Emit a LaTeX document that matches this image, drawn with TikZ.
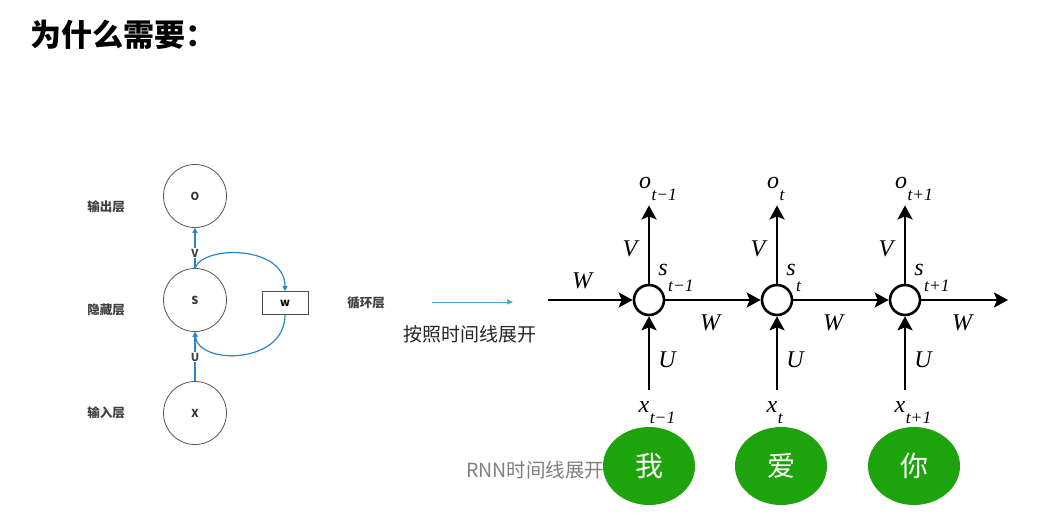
\documentclass[tikz,border=0pt]{standalone}
\usepackage{fontspec}
\setmainfont{Liberation Serif}
\newfontfamily\cjk{Noto Sans CJK SC}
\usetikzlibrary{arrows.meta,shapes.geometric}
\definecolor{lblue}{HTML}{2A86C4}
\definecolor{rgreen}{HTML}{1DA30B}
\newcommand{\sbx}[2]{\rlap{\smash{\kern0.5pt\raisebox{-#1pt}{\fontsize{17.5}{17.5}\selectfont\itshape #2}}}}
\begin{document}
\begin{tikzpicture}[x=1pt,y=-1pt,
  lcirc/.style={circle,draw=black!65,line width=0.8pt,minimum size=63pt,inner sep=0pt,font=\cjk\bfseries\fontsize{11}{11}\selectfont,text=black!80},
  llab/.style={font=\cjk\bfseries\fontsize{12.5}{13}\selectfont,text=black!75},
  wlab/.style={font=\cjk\bfseries\fontsize{11}{11}\selectfont,text=black!75,fill=white,inner sep=1pt},
  barr/.style={draw=lblue,line width=1.2pt,-{Triangle[length=5pt,width=5pt]}},
  rcirc/.style={circle,draw=black,line width=2.6pt,minimum size=30pt,inner sep=0pt},
  rarr/.style={draw=black,line width=2.6pt,-{Stealth[length=14pt,width=15pt,inset=3pt]}},
  mlab/.style={font=\itshape\fontsize{24}{24}\selectfont,inner sep=0pt},
  gword/.style={ellipse,fill=rgreen,minimum width=92pt,minimum height=78pt,text=white,font=\cjk\fontsize{28}{28}\selectfont},
]
\useasboundingbox[fill=white] (0,0) rectangle (1038,532);

% title
\node[anchor=west,font=\cjk\bfseries\fontsize{31}{31}\selectfont,inner sep=0pt] (title) at (30,35) {为什么需要：};

% left diagram
\node[lcirc] (O) at (195,196) {O};
\node[lcirc] (S) at (195,300) {S};
\node[lcirc] (X) at (195,413) {X};
\node[llab] (lo) at (106,207) {输出层};
\node[llab] (ls) at (106,310) {隐藏层};
\node[llab] (lx) at (106,413) {输入层};
\node[draw=black!70,line width=0.8pt,minimum width=46pt,minimum height=23pt,inner sep=0pt,font=\cjk\bfseries\fontsize{11}{11}\selectfont] (w) at (285,303) {w};
\draw[barr] (S.north) -- (O.south);
\node[wlab] (V) at (195,253) {V};
\draw[barr] (X.north) -- (S.south);
\node[wlab] (U) at (195,357) {U};
\draw[barr] (S.north) .. controls (203,245) and (285,245) .. (w.north);
\draw[barr] (w.south) .. controls (285,365) and (198,365) .. (S.south);

\node[llab] (loop) at (366,303) {循环层};
\coordinate (ua) at (432,302);
\coordinate (ub) at (513,302);
\draw[draw=lblue!80,line width=0.7pt,-{Triangle[length=6pt,width=5pt]}] (ua) -- (ub);
\node[font=\cjk\fontsize{19}{19}\selectfont,text=black!85] (unf) at (470,334) {按照时间线展开};

% right diagram
\node[font=\cjk\fontsize{19.5}{20}\selectfont,text=black!50,anchor=west,inner sep=0pt] (rnn) at (466,470) {RNN时间线展开};

\foreach \i/\x/\sb in {1/649/t−1,2/777/t,3/905/t+1}{
  \node[rcirc] (c\i) at (\x,300) {};
  \node[mlab,anchor=base] (o\i) at (\x-4,188) {o\sbx{12}{\sb}};
  \node[mlab,anchor=base] (s\i) at (\x+14,275) {s\sbx{16}{\sb}};
  \node[mlab,anchor=base] (x\i) at (\x-5,412) {x\sbx{11}{\sb}};
  \draw[rarr] (c\i.north) -- ([xshift=4pt,yshift=-17pt]o\i.south);
  \draw[rarr] ([xshift=5pt,yshift=11pt]x\i.north) -- (c\i.south);
  \node[mlab] (v\i) at (\x-19,249) {V};
  \node[mlab] (u\i) at (\x+18,360) {U};
}
\coordinate (win) at (548,300);
\coordinate (wout) at (1008,300);
\draw[rarr] (win) -- (c1.west);
\draw[rarr] (c1.east) -- (c2.west);
\draw[rarr] (c2.east) -- (c3.west);
\draw[rarr] (c3.east) -- (wout);
\node[mlab] (w0) at (582,281) {W};
\node[mlab] (w1) at (710,323) {W};
\node[mlab] (w2) at (833,323) {W};
\node[mlab] (w3) at (962,323) {W};

\node[gword] (g1) at (649,466) {我};
\node[gword] (g2) at (781,466) {爱};
\node[gword] (g3) at (914,466) {你};
\end{tikzpicture}
\end{document}
